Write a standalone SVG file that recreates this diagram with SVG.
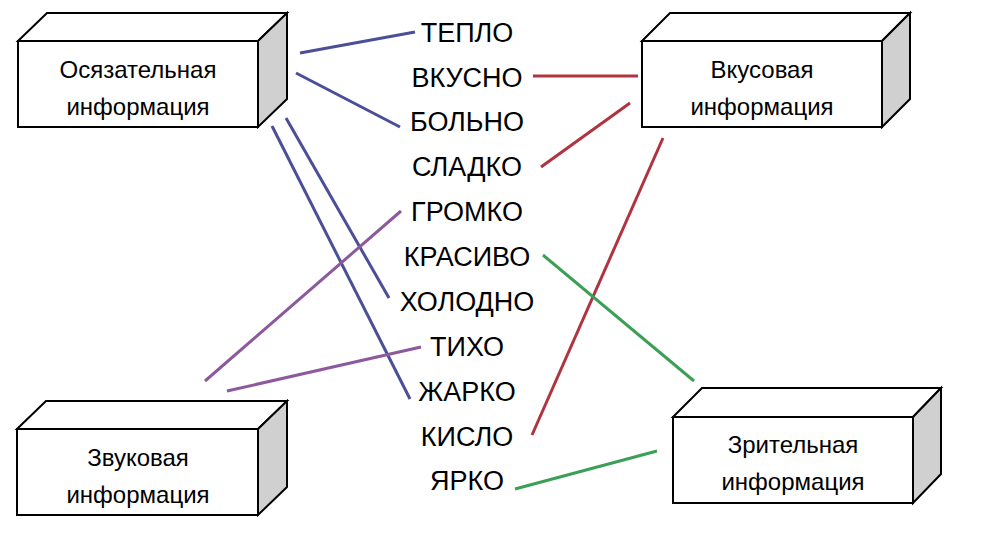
<svg xmlns="http://www.w3.org/2000/svg" width="983" height="537" viewBox="0 0 983 537">
<style>
.front{fill:#ffffff;stroke:#000;stroke-width:2;stroke-linejoin:miter}
.top{fill:#ffffff;stroke:#000;stroke-width:2}
.side{fill:#d0d0d0;stroke:#000;stroke-width:2}
.lbl{font-family:"Liberation Sans",Arial,sans-serif;font-size:24px;fill:#000;text-anchor:middle}
.word{font-family:"Liberation Sans",Arial,sans-serif;font-size:27px;fill:#000;text-anchor:middle}
.c{fill:none;stroke-width:3;stroke-linecap:butt}
.blue{stroke:#4b4f98}
.red{stroke:#b0343f}
.purple{stroke:#8c5a9c}
.green{stroke:#3c9f56}
</style>
<rect width="983" height="537" fill="#ffffff"/>
<g id="connectors">
<line class="c blue" x1="300" y1="53" x2="415" y2="32"/>
<line class="c blue" x1="296" y1="73" x2="400" y2="127"/>
<line class="c blue" x1="286" y1="118" x2="389" y2="298"/>
<line class="c blue" x1="272" y1="126" x2="410" y2="399"/>
<line class="c red" x1="533" y1="76" x2="638" y2="76"/>
<line class="c red" x1="541" y1="167" x2="630" y2="103"/>
<line class="c red" x1="532" y1="435" x2="663" y2="138"/>
<line class="c purple" x1="401" y1="211" x2="205" y2="381"/>
<line class="c purple" x1="421" y1="347" x2="227" y2="391"/>
<line class="c green" x1="543" y1="255" x2="694" y2="381"/>
<line class="c green" x1="515" y1="489" x2="657" y2="451"/>
</g>
<g id="node-touch">
<polygon class="top" points="18,41 47,13 287,13 258,41"/>
<polygon class="side" points="258,41 287,13 287,99 258,127"/>
<rect class="front" x="18" y="41" width="240" height="86"/>
<text class="lbl" x="138" y="78">Осязательная</text>
<text class="lbl" x="138" y="115">информация</text>
</g>
<g id="node-taste">
<polygon class="top" points="642,41 670,13 910,13 882,41"/>
<polygon class="side" points="882,41 910,13 910,99 882,127"/>
<rect class="front" x="642" y="41" width="240" height="86"/>
<text class="lbl" x="762" y="78">Вкусовая</text>
<text class="lbl" x="762" y="115">информация</text>
</g>
<g id="node-sound">
<polygon class="top" points="17,429 46,401 287,401 258,429"/>
<polygon class="side" points="258,429 287,401 287,487 258,515"/>
<rect class="front" x="17" y="429" width="241" height="86"/>
<text class="lbl" x="138" y="466">Звуковая</text>
<text class="lbl" x="138" y="503">информация</text>
</g>
<g id="node-vision">
<polygon class="top" points="673,417 702,388 941,388 913,417"/>
<polygon class="side" points="913,417 941,388 941,474 913,503"/>
<rect class="front" x="673" y="417" width="240" height="86"/>
<text class="lbl" x="793" y="453">Зрительная</text>
<text class="lbl" x="793" y="490">информация</text>
</g>
<g id="words">
<text class="word" x="467" y="42">ТЕПЛО</text>
<text class="word" x="467" y="87">ВКУСНО</text>
<text class="word" x="467" y="131">БОЛЬНО</text>
<text class="word" x="467" y="176">СЛАДКО</text>
<text class="word" x="467" y="221">ГРОМКО</text>
<text class="word" x="467" y="266">КРАСИВО</text>
<text class="word" x="467" y="311">ХОЛОДНО</text>
<text class="word" x="467" y="356">ТИХО</text>
<text class="word" x="467" y="401">ЖАРКО</text>
<text class="word" x="467" y="446">КИСЛО</text>
<text class="word" x="467" y="490">ЯРКО</text>
</g>
</svg>
